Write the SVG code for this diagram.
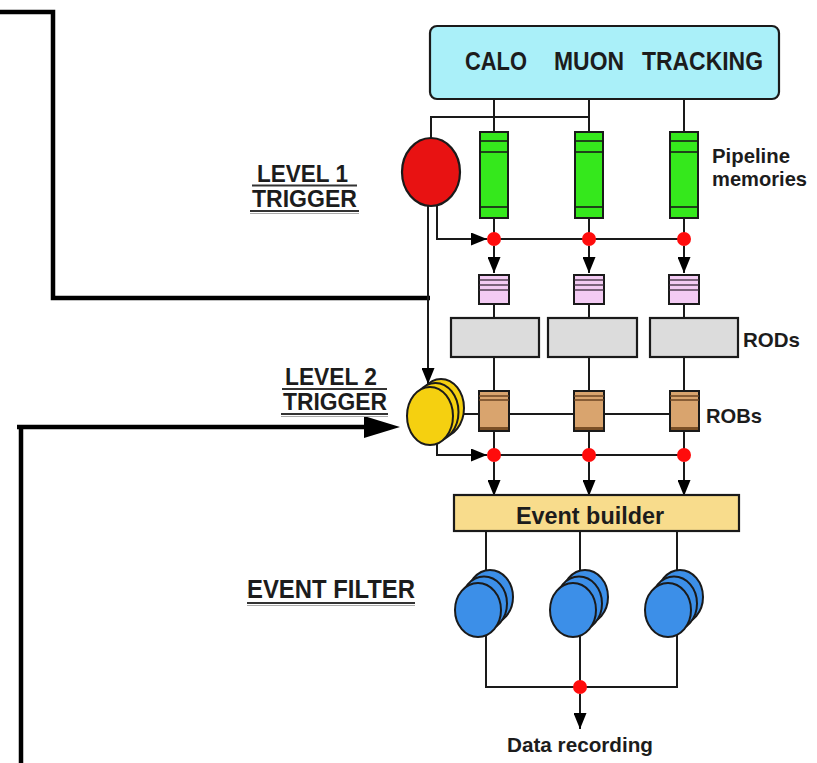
<svg xmlns="http://www.w3.org/2000/svg" width="817" height="763" viewBox="0 0 817 763">
<defs>
<style>
.ln{fill:none;stroke:#1a1a1a;stroke-width:2}
.thick{fill:none;stroke:#000;stroke-width:4.5}
.lbl{font-family:"Liberation Sans",Arial,Helvetica,sans-serif;font-weight:bold;fill:#1c1c1c}
.ul{stroke:#333;stroke-width:2}
.ul2{stroke:#aaa;stroke-width:1.2}
.dot{fill:#ff0c0c}
.green{fill:#35e81c;stroke:#1a1a1a;stroke-width:2}
.gs{stroke:#1a1a1a;stroke-width:1.6}
.pink{fill:#f3cbf3;stroke:#1a1a1a;stroke-width:2}
.ps{stroke:#3a2a3a;stroke-width:1.3}
.rod{fill:#dcdcdc;stroke:#1a1a1a;stroke-width:2.2}
.rob{fill:#d9a46e;stroke:#1a1a1a;stroke-width:2}
.robs{stroke:#6b4523;stroke-width:1.5}
.yel{fill:#f5d010;stroke:#1a1a1a;stroke-width:2}
.blue{fill:#3c8fe8;stroke:#1a1a1a;stroke-width:2}
</style>
<marker id="ah" viewBox="0 0 16 13" refX="16" refY="6.5" markerWidth="16" markerHeight="13" markerUnits="userSpaceOnUse" orient="auto"><path d="M0,0 L16,6.5 L0,13 z" fill="#000"/></marker>
</defs>
<rect width="817" height="763" fill="#fff"/>

<g id="connectors">
  <path class="thick" d="M0,12 H53 V298 H430"/>
  <path class="thick" d="M21,763 V427"/>
  <path class="thick" d="M17,427 H368"/>
  <polygon points="364,416 400,427 364,438" fill="#000"/>
  <path class="ln" d="M494,99 V132 M589,99 V132 M684,99 V132"/>
  <path class="ln" d="M589,117 H431 V140"/>
  <path class="ln" d="M494,218 V239 M589,218 V239 M684,218 V239"/>
  <path class="ln" d="M437,204 V239 H487" marker-end="url(#ah)"/>
  <path class="ln" d="M494,239 H684"/>
  <path class="ln" d="M494,246 V273" marker-end="url(#ah)"/>
  <path class="ln" d="M589,246 V273" marker-end="url(#ah)"/>
  <path class="ln" d="M684,246 V273" marker-end="url(#ah)"/>
  <path class="ln" d="M494,304 V318 M589,304 V318 M684,304 V318"/>
  <path class="ln" d="M494,357 V390 M589,357 V390 M684,357 V390"/>
  <path class="ln" d="M455,414 H684"/>
  <path class="ln" d="M494,430 V455 M589,430 V455 M684,430 V455"/>
  <path class="ln" d="M428,206 V384" marker-end="url(#ah)"/>
  <path class="ln" d="M437,440 V455 H487" marker-end="url(#ah)"/>
  <path class="ln" d="M494,455 H684"/>
  <path class="ln" d="M494,462 V496" marker-end="url(#ah)"/>
  <path class="ln" d="M589,462 V496" marker-end="url(#ah)"/>
  <path class="ln" d="M684,462 V496" marker-end="url(#ah)"/>
  <path class="ln" d="M486,531 V580 M580,531 V580 M677,531 V580"/>
  <path class="ln" d="M486,628 V687 H677 V628 M580,628 V687"/>
  <path class="ln" d="M580,694 V729" marker-end="url(#ah)"/>
</g>

<g id="detectors">
  <rect x="430" y="26" width="349" height="73" rx="7" fill="#aaf0f9" stroke="#1a1a1a" stroke-width="2.2"/>
  <text class="lbl" x="465" y="70" font-size="25" textLength="62" lengthAdjust="spacingAndGlyphs">CALO</text>
  <text class="lbl" x="554" y="70" font-size="25" textLength="70" lengthAdjust="spacingAndGlyphs">MUON</text>
  <text class="lbl" x="642" y="70" font-size="25" textLength="121" lengthAdjust="spacingAndGlyphs">TRACKING</text>
</g>

<g id="level1-trigger">
  <ellipse cx="431" cy="172" rx="29" ry="34" fill="#e81212" stroke="#1a1a1a" stroke-width="2.2"/>
  <text class="lbl" x="257" y="182" font-size="24" textLength="91" lengthAdjust="spacingAndGlyphs">LEVEL 1</text>
  <line class="ul" x1="252" y1="185.5" x2="357" y2="185.5"/>
  <text class="lbl" x="252" y="207" font-size="24" textLength="105" lengthAdjust="spacingAndGlyphs">TRIGGER</text>
  <line class="ul" x1="250" y1="211" x2="359" y2="211"/>
  <line class="ul2" x1="250" y1="213.5" x2="359" y2="213.5"/>
</g>

<g id="pipeline-memories">
  <rect class="green" x="480" y="132" width="28" height="86"/>
  <line class="gs" x1="480" y1="141" x2="508" y2="141"/><line class="gs" x1="480" y1="152" x2="508" y2="152"/><line class="gs" x1="480" y1="207" x2="508" y2="207"/>
  <rect class="green" x="575" y="132" width="28" height="86"/>
  <line class="gs" x1="575" y1="141" x2="603" y2="141"/><line class="gs" x1="575" y1="152" x2="603" y2="152"/><line class="gs" x1="575" y1="207" x2="603" y2="207"/>
  <rect class="green" x="670" y="132" width="28" height="86"/>
  <line class="gs" x1="670" y1="141" x2="698" y2="141"/><line class="gs" x1="670" y1="152" x2="698" y2="152"/><line class="gs" x1="670" y1="207" x2="698" y2="207"/>
  <text class="lbl" x="712" y="163" font-size="21" textLength="78" lengthAdjust="spacingAndGlyphs">Pipeline</text>
  <text class="lbl" x="712" y="186" font-size="21" textLength="95" lengthAdjust="spacingAndGlyphs">memories</text>
</g>

<g id="derandomizers">
  <rect class="pink" x="479" y="275" width="30" height="29"/>
  <line class="ps" x1="479" y1="280" x2="509" y2="280"/><line class="ps" x1="479" y1="285" x2="509" y2="285"/><line class="ps" x1="479" y1="290" x2="509" y2="290"/>
  <rect class="pink" x="574" y="275" width="30" height="29"/>
  <line class="ps" x1="574" y1="280" x2="604" y2="280"/><line class="ps" x1="574" y1="285" x2="604" y2="285"/><line class="ps" x1="574" y1="290" x2="604" y2="290"/>
  <rect class="pink" x="669" y="275" width="30" height="29"/>
  <line class="ps" x1="669" y1="280" x2="699" y2="280"/><line class="ps" x1="669" y1="285" x2="699" y2="285"/><line class="ps" x1="669" y1="290" x2="699" y2="290"/>
</g>

<g id="rods">
  <rect class="rod" x="451" y="318" width="88" height="39"/>
  <rect class="rod" x="548" y="318" width="89" height="39"/>
  <rect class="rod" x="650" y="318" width="88" height="39"/>
  <text class="lbl" x="743" y="347" font-size="21" textLength="57" lengthAdjust="spacingAndGlyphs">RODs</text>
</g>

<g id="robs">
  <rect class="rob" x="479" y="391" width="30" height="40"/>
  <line class="robs" x1="479" y1="396" x2="509" y2="396"/><line class="robs" x1="479" y1="400" x2="509" y2="400"/>
  <rect x="480" y="427" width="28" height="3" fill="#7a4f26"/>
  <rect class="rob" x="574" y="391" width="30" height="40"/>
  <line class="robs" x1="574" y1="396" x2="604" y2="396"/><line class="robs" x1="574" y1="400" x2="604" y2="400"/>
  <rect x="575" y="427" width="28" height="3" fill="#7a4f26"/>
  <rect class="rob" x="670" y="391" width="29" height="40"/>
  <line class="robs" x1="670" y1="396" x2="699" y2="396"/><line class="robs" x1="670" y1="400" x2="699" y2="400"/>
  <rect x="671" y="427" width="27" height="3" fill="#7a4f26"/>
  <text class="lbl" x="706" y="423" font-size="21" textLength="56" lengthAdjust="spacingAndGlyphs">ROBs</text>
</g>

<g id="level2-trigger">
  <ellipse class="yel" cx="441" cy="408" rx="23" ry="29"/>
  <ellipse class="yel" cx="435.5" cy="412" rx="23" ry="29"/>
  <ellipse class="yel" cx="430" cy="416" rx="23" ry="29"/>
  <text class="lbl" x="285" y="385" font-size="24" textLength="92" lengthAdjust="spacingAndGlyphs">LEVEL 2</text>
  <line class="ul" x1="282" y1="389" x2="387" y2="389"/>
  <text class="lbl" x="283" y="410" font-size="24" textLength="104" lengthAdjust="spacingAndGlyphs">TRIGGER</text>
  <line class="ul" x1="281" y1="414" x2="388" y2="414"/>
  <line class="ul2" x1="281" y1="416.5" x2="388" y2="416.5"/>
</g>

<g id="switch-points">
  <circle class="dot" cx="494" cy="239" r="7"/>
  <circle class="dot" cx="589" cy="239" r="7"/>
  <circle class="dot" cx="684" cy="239" r="7"/>
  <circle class="dot" cx="494" cy="455" r="7"/>
  <circle class="dot" cx="589" cy="455" r="7"/>
  <circle class="dot" cx="684" cy="455" r="7"/>
  <circle class="dot" cx="580" cy="687" r="7"/>
</g>

<g id="event-builder">
  <rect x="454" y="495" width="285" height="36" fill="#f8dc8c" stroke="#1a1a1a" stroke-width="2.2"/>
  <text class="lbl" x="516" y="524" font-size="24" textLength="148" lengthAdjust="spacingAndGlyphs">Event builder</text>
</g>

<g id="event-filter">
  <ellipse class="blue" cx="490" cy="597" rx="23" ry="27"/>
  <ellipse class="blue" cx="484" cy="603.5" rx="23" ry="27"/>
  <ellipse class="blue" cx="478" cy="610" rx="23" ry="27"/>
  <ellipse class="blue" cx="585" cy="597" rx="23" ry="27"/>
  <ellipse class="blue" cx="579" cy="603.5" rx="23" ry="27"/>
  <ellipse class="blue" cx="573" cy="610" rx="23" ry="27"/>
  <ellipse class="blue" cx="680" cy="597" rx="23" ry="27"/>
  <ellipse class="blue" cx="674" cy="603.5" rx="23" ry="27"/>
  <ellipse class="blue" cx="668" cy="610" rx="23" ry="27"/>
  <text class="lbl" x="247" y="598" font-size="26" textLength="168" lengthAdjust="spacingAndGlyphs">EVENT FILTER</text>
  <line class="ul" x1="247" y1="603" x2="415" y2="603"/>
  <line class="ul2" x1="247" y1="605.5" x2="415" y2="605.5"/>
</g>

<g id="data-recording">
  <text class="lbl" x="507" y="752" font-size="21" textLength="146" lengthAdjust="spacingAndGlyphs">Data recording</text>
</g>
</svg>
